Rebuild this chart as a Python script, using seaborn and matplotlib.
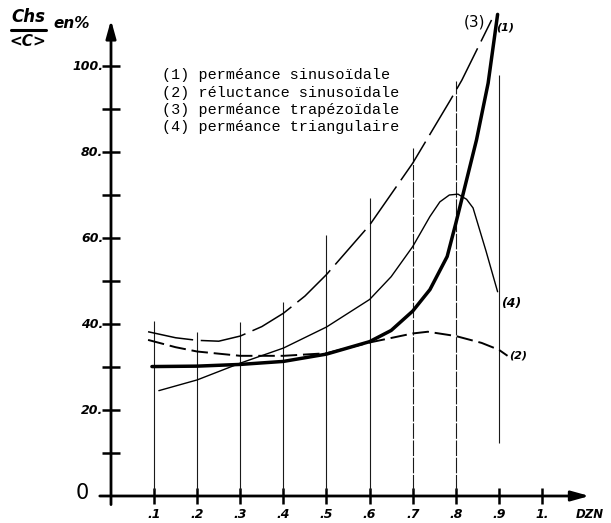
import numpy as np
import pandas as pd
import seaborn as sns
import matplotlib.pyplot as plt

# curve values (DZN, Chs/<C> in %)
dzn_1 = [0.095, 0.2, 0.3, 0.4, 0.5, 0.6, 0.65, 0.7, 0.74, 0.78, 0.8, 0.825, 0.848, 0.875, 0.897]
chs_1 = [30.1, 30.2, 30.6, 31.3, 33.0, 35.9, 38.5, 43.0, 48.0, 55.7, 63.4, 73.5, 82.8, 96.0, 112.0]

dzn_2 = [0.086, 0.15, 0.2, 0.3, 0.4, 0.5, 0.6, 0.7, 0.735, 0.8, 0.86, 0.9, 0.92]
chs_2 = [36.3, 34.6, 33.6, 32.6, 32.6, 33.2, 35.7, 37.8, 38.2, 37.2, 35.6, 34.0, 32.6]

dzn_3 = [0.086, 0.15, 0.2, 0.25, 0.3, 0.35, 0.4, 0.45, 0.5, 0.6, 0.7, 0.787, 0.814, 0.883]
chs_3 = [38.2, 36.8, 36.2, 36.0, 37.2, 39.4, 42.5, 46.5, 51.5, 63.0, 77.4, 92.0, 96.7, 110.7]

dzn_4 = [0.111, 0.2, 0.3, 0.4, 0.5, 0.6, 0.65, 0.7, 0.72, 0.74, 0.763, 0.785, 0.805, 0.825, 0.84, 0.87, 0.897]
chs_4 = [24.5, 27.0, 30.9, 34.4, 39.3, 45.7, 51.0, 58.0, 61.5, 65.0, 68.4, 70.0, 70.2, 69.0, 67.0, 57.0, 47.5]

# vertical guide lines at each DZN tick
guide_x = [0.1, 0.2, 0.3, 0.4, 0.5, 0.6, 0.7, 0.8, 0.9]
guide_top = [40.8, 38.2, 40.5, 45.2, 60.7, 69.3, 80.9, 96.4, 97.9]
guide_bottom = [1.5, 1.5, 1.5, 1.5, 1.5, 1.5, 1.5, 1.5, 12.3]

x_ticks = [0.1, 0.2, 0.3, 0.4, 0.5, 0.6, 0.7, 0.8, 0.9, 1.0]
x_labels = [".1", ".2", ".3", ".4", ".5", ".6", ".7", ".8", ".9", "1."]
y_ticks = [10, 20, 30, 40, 50, 60, 70, 80, 90, 100]
y_labels = {20: "20.", 40: "40.", 60: "60.", 80: "80.", 100: "100."}

legend_lines = ["(1) perméance sinusoïdale",
                "(2) réluctance sinusoïdale",
                "(3) perméance trapézoïdale",
                "(4) perméance triangulaire"]

sns.set_theme(style="white")
plt.rcParams["font.family"] = ["DejaVu Sans"]

fig = plt.figure(figsize=(6.11, 5.23), dpi=100)
ax = fig.add_axes([0, 0, 1, 1])
ax.set_xlim(-111 / 431, 500 / 431)
ax.set_ylim(-27 / 4.3, 496 / 4.3)
ax.axis("off")

def px(x, y):
    # pixel position in the picture -> data coords
    return (x - 111) / 431, (496 - y) / 4.3

# guides
ax.vlines(guide_x[:6], guide_bottom[:6], guide_top[:6], color="#1a1a1a", lw=0.8)
ax.vlines(guide_x[6:8], guide_bottom[6:8], guide_top[6:8], color="#1a1a1a", lw=0.8,
          linestyles=[(0, (14, 1.5))])
ax.vlines(guide_x[8:], guide_bottom[8:], guide_top[8:], color="#1a1a1a", lw=0.8)

# curves
sns.lineplot(x=dzn_1, y=chs_1, ax=ax, color="black", lw=2.5, sort=False, estimator=None)
sns.lineplot(x=dzn_2, y=chs_2, ax=ax, color="black", lw=1.4, ls=(0, (8.5, 3)),
             sort=False, estimator=None)
sns.lineplot(x=dzn_3, y=chs_3, ax=ax, color="black", lw=1.1, ls=(0, (30, 5)),
             sort=False, estimator=None)
sns.lineplot(x=dzn_4, y=chs_4, ax=ax, color="black", lw=1.0, sort=False, estimator=None)

# hand drawn axes with arrows
ax.annotate("", xy=(0, 110.7), xytext=(0, -2.0),
            arrowprops=dict(arrowstyle="-|>,head_length=0.9,head_width=0.25",
                            color="black", lw=2.0, shrinkA=0, shrinkB=0))
ax.annotate("", xy=(1.11, 0), xytext=(-0.026, 0),
            arrowprops=dict(arrowstyle="-|>,head_length=0.9,head_width=0.25",
                            color="black", lw=2.0, shrinkA=0, shrinkB=0))

ax.scatter([0] * len(y_ticks), y_ticks, marker="_", s=150, color="black", linewidths=1.8)
ax.scatter(x_ticks, [0] * len(x_ticks), marker="|", s=120, color="black", linewidths=1.8)

hand = dict(color="black", fontstyle="italic", fontweight="bold")
for v, lab in y_labels.items():
    ax.text(-0.018, v, lab, ha="right", va="center", fontsize=9, **hand)
ax.text(*px(82, 493), "0", ha="center", va="center", fontsize=15, color="black")
for xv, lab in zip(x_ticks, x_labels):
    ax.text(xv, (496 - 515) / 4.3, lab, ha="center", va="center", fontsize=9, **hand)
ax.text(*px(590, 515), "DZN", ha="center", va="center", fontsize=8.5, **hand)

# y title: Chs / <C> en%
ax.text(*px(28, 17), "Chs", ha="center", va="center", fontsize=12, **hand)
ax.plot(*zip(px(11, 30), px(46, 30)), color="black", lw=2.2)
ax.text(*px(28, 41), "<C>", ha="center", va="center", fontsize=11, **hand)
ax.text(*px(72, 24), "en%", ha="center", va="center", fontsize=11, **hand)

# curve labels
ax.text(*px(475, 22), "(3)", ha="center", va="center", fontsize=11, color="black")
ax.text(*px(505, 28), "(1)", ha="center", va="center", fontsize=8, **hand)
ax.text(*px(511, 303), "(4)", ha="center", va="center", fontsize=9, **hand)
ax.text(*px(518, 355), "(2)", ha="center", va="center", fontsize=8, **hand)

# legend block
for i, line in enumerate(legend_lines):
    ax.text(*px(162, 75 + 17.5 * i), line, ha="left", va="center",
            fontsize=10.9, family="Liberation Mono", color="black")

fig.savefig("out.png", dpi=100)
